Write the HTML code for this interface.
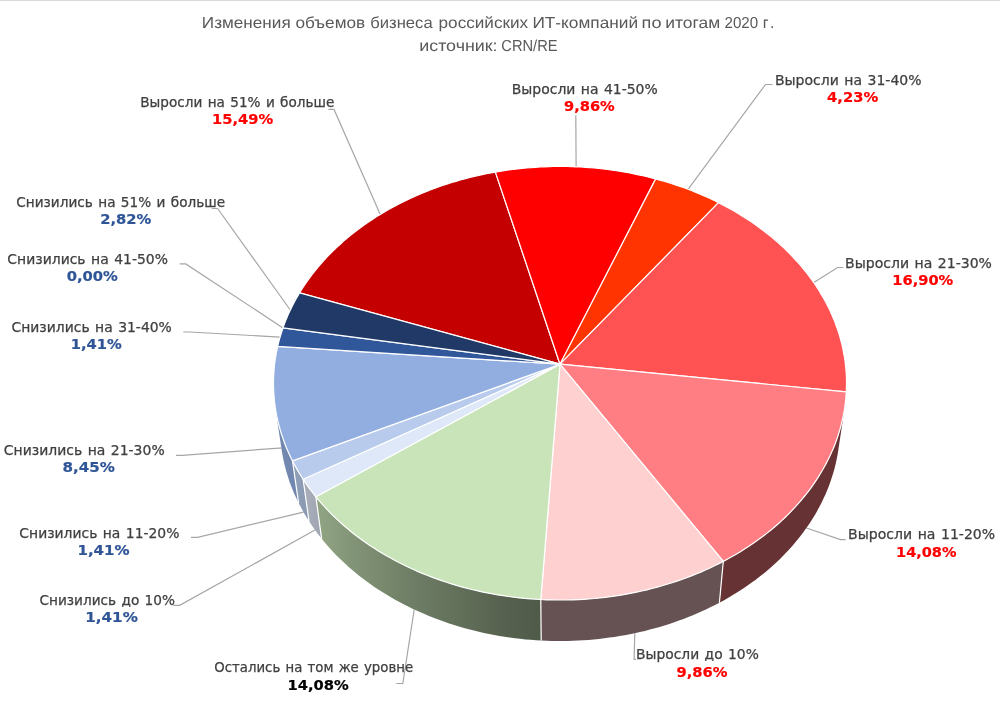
<!DOCTYPE html>
<html lang="ru">
<head>
<meta charset="utf-8">
<title>Изменения объемов бизнеса российских ИТ-компаний по итогам 2020 г.</title>
<style>
html,body{margin:0;padding:0;background:#fff;}
body{width:1000px;height:709px;overflow:hidden;position:relative;}
svg{position:absolute;left:0;top:0;display:block;}
.ttl{font-family:"Liberation Sans",sans-serif;font-size:15.9px;text-rendering:geometricPrecision;fill:#595959;}
.lb{font-family:"DejaVu Sans","Liberation Sans",sans-serif;font-size:13.5px;word-spacing:1px;fill:#404040;stroke:#404040;stroke-width:0.25px;}
.vl{font-family:"DejaVu Sans","Liberation Sans",sans-serif;font-size:13.8px;font-weight:bold;stroke-width:0.2px;}
</style>
</head>
<body>
<svg width="1000" height="709" viewBox="0 0 1000 709">
<rect x="0" y="0" width="1000" height="709" fill="#fff"/>
<rect x="0" y="0" width="1000" height="1" fill="#D9D9D9"/>
<text class="ttl" y="28.0"><tspan x="201.83" textLength="88.86" lengthAdjust="spacingAndGlyphs">Изменения</tspan> <tspan x="295.53" textLength="69.62" lengthAdjust="spacingAndGlyphs">объемов</tspan> <tspan x="370.30" textLength="62.35" lengthAdjust="spacingAndGlyphs">бизнеса</tspan> <tspan x="438.60" textLength="89.55" lengthAdjust="spacingAndGlyphs">российских</tspan> <tspan x="532.44" textLength="105.62" lengthAdjust="spacingAndGlyphs">ИТ-компаний</tspan> <tspan x="641.60" textLength="19.86" lengthAdjust="spacingAndGlyphs">по</tspan> <tspan x="665.29" textLength="54.92" lengthAdjust="spacingAndGlyphs">итогам</tspan> <tspan x="724.57" textLength="33.63" lengthAdjust="spacingAndGlyphs">2020</tspan> <tspan x="762.70" textLength="11.75" lengthAdjust="spacing">г.</tspan></text>
<text class="ttl" y="51.0"><tspan x="419.22" textLength="78.36" lengthAdjust="spacingAndGlyphs">источник:</tspan> <tspan x="501.29" textLength="56.30" lengthAdjust="spacingAndGlyphs">CRN/RE</tspan></text>
<defs>
<linearGradient id="g1" gradientUnits="userSpaceOnUse" x1="838.3" y1="0" x2="719.4" y2="0"><stop offset="0.000" stop-color="#663233"/><stop offset="0.040" stop-color="#663233"/><stop offset="0.106" stop-color="#663233"/><stop offset="0.197" stop-color="#663233"/><stop offset="0.312" stop-color="#663233"/><stop offset="0.452" stop-color="#663233"/><stop offset="0.614" stop-color="#663233"/><stop offset="0.797" stop-color="#663233"/><stop offset="1.000" stop-color="#663233"/></linearGradient>
<linearGradient id="g2" gradientUnits="userSpaceOnUse" x1="719.4" y1="0" x2="541.2" y2="0"><stop offset="0.000" stop-color="#665252"/><stop offset="0.111" stop-color="#665252"/><stop offset="0.227" stop-color="#665252"/><stop offset="0.349" stop-color="#665252"/><stop offset="0.475" stop-color="#665252"/><stop offset="0.604" stop-color="#665252"/><stop offset="0.735" stop-color="#665252"/><stop offset="0.867" stop-color="#665252"/><stop offset="1.000" stop-color="#665252"/></linearGradient>
<linearGradient id="g3" gradientUnits="userSpaceOnUse" x1="541.2" y1="0" x2="321.6" y2="0"><stop offset="0.000" stop-color="#4F5A48"/><stop offset="0.152" stop-color="#55614E"/><stop offset="0.301" stop-color="#5E6A55"/><stop offset="0.444" stop-color="#66745D"/><stop offset="0.578" stop-color="#6E7D65"/><stop offset="0.703" stop-color="#76876C"/><stop offset="0.815" stop-color="#7F9074"/><stop offset="0.915" stop-color="#879A7B"/><stop offset="1.000" stop-color="#8FA383"/></linearGradient>
<linearGradient id="g4" gradientUnits="userSpaceOnUse" x1="321.6" y1="0" x2="309.0" y2="0"><stop offset="0.000" stop-color="#9FA5B1"/><stop offset="0.134" stop-color="#A0A6B2"/><stop offset="0.266" stop-color="#A1A7B3"/><stop offset="0.395" stop-color="#A2A8B4"/><stop offset="0.522" stop-color="#A2A9B5"/><stop offset="0.645" stop-color="#A3AAB6"/><stop offset="0.766" stop-color="#A4ABB7"/><stop offset="0.885" stop-color="#A5ACB8"/><stop offset="1.000" stop-color="#A6ADB9"/></linearGradient>
<linearGradient id="g5" gradientUnits="userSpaceOnUse" x1="309.0" y1="0" x2="298.6" y2="0"><stop offset="0.000" stop-color="#8998B0"/><stop offset="0.137" stop-color="#8A98B1"/><stop offset="0.270" stop-color="#8B99B2"/><stop offset="0.400" stop-color="#8B9AB3"/><stop offset="0.527" stop-color="#8C9BB4"/><stop offset="0.650" stop-color="#8D9CB5"/><stop offset="0.770" stop-color="#8E9DB6"/><stop offset="0.887" stop-color="#8E9EB7"/><stop offset="1.000" stop-color="#8F9EB8"/></linearGradient>
<linearGradient id="g6" gradientUnits="userSpaceOnUse" x1="298.6" y1="0" x2="281.7" y2="0"><stop offset="0.000" stop-color="#7287AF"/><stop offset="0.182" stop-color="#7288B0"/><stop offset="0.348" stop-color="#7288B0"/><stop offset="0.498" stop-color="#7288B0"/><stop offset="0.631" stop-color="#7288B0"/><stop offset="0.748" stop-color="#7288B0"/><stop offset="0.848" stop-color="#7288B0"/><stop offset="0.932" stop-color="#7288B0"/><stop offset="1.000" stop-color="#7288B0"/></linearGradient>
</defs>
<g id="leaders">
<polyline points="328.4,109.4 334.0,109.4 380.3,214.4" fill="none" stroke="#A6A6A6" stroke-width="1.2"/>
<polyline points="575.8,115.5 576.1,166.8" fill="none" stroke="#A6A6A6" stroke-width="1.2"/>
<polyline points="772.6,84.5 765.5,84.5 688.0,189.3" fill="none" stroke="#A6A6A6" stroke-width="1.2"/>
<polyline points="843.3,267.5 837.6,267.5 813.8,282.6" fill="none" stroke="#A6A6A6" stroke-width="1.2"/>
<polyline points="845.6,539.6 840.5,539.6 806.4,528.0" fill="none" stroke="#A6A6A6" stroke-width="1.2"/>
<polyline points="636.0,659.3 634.1,659.3 634.8,633.2" fill="none" stroke="#A6A6A6" stroke-width="1.2"/>
<polyline points="396.3,683.5 402.8,683.5 414.2,609.5" fill="none" stroke="#A6A6A6" stroke-width="1.2"/>
<polyline points="173.3,605.3 179.7,605.3 315.0,530.0" fill="none" stroke="#A6A6A6" stroke-width="1.2"/>
<polyline points="191.0,537.3 197.5,537.3 303.5,512.2" fill="none" stroke="#A6A6A6" stroke-width="1.2"/>
<polyline points="176.0,455.3 182.0,455.3 283.0,447.8" fill="none" stroke="#A6A6A6" stroke-width="1.2"/>
<polyline points="183.3,332.0 189.5,332.0 280.1,337.1" fill="none" stroke="#A6A6A6" stroke-width="1.2"/>
<polyline points="179.7,263.9 185.7,263.9 283.0,327.9" fill="none" stroke="#A6A6A6" stroke-width="1.2"/>
<polyline points="211.6,208.5 217.6,208.5 290.3,310.0" fill="none" stroke="#A6A6A6" stroke-width="1.2"/>
</g>
<g id="sides">
<polygon points="844.7,407.7 844.1,411.5 843.4,415.3 842.6,419.0 841.7,422.8 840.7,426.6 839.7,430.3 838.5,434.0 837.3,437.8 836.0,441.5 834.6,445.2 833.1,448.9 831.5,452.5 829.8,456.2 828.0,459.8 826.2,463.5 824.2,467.1 822.2,470.6 820.1,474.2 817.9,477.7 815.6,481.2 813.2,484.7 810.7,488.1 808.2,491.6 805.5,495.0 802.8,498.3 800.0,501.6 797.1,504.9 794.2,508.2 791.1,511.4 788.0,514.5 784.8,517.7 781.5,520.8 778.1,523.8 774.7,526.8 771.1,529.8 767.5,532.7 763.9,535.6 760.1,538.4 756.3,541.2 752.4,543.9 748.4,546.5 744.4,549.2 740.3,551.7 736.2,554.2 731.9,556.7 727.6,559.0 723.3,561.4 719.4,602.7 723.7,600.4 727.9,598.0 732.0,595.6 736.1,593.1 740.1,590.6 744.0,588.0 747.9,585.3 751.7,582.6 755.4,579.9 759.1,577.1 762.7,574.3 766.2,571.4 769.6,568.4 773.0,565.5 776.3,562.4 779.5,559.4 782.7,556.2 785.7,553.1 788.7,549.9 791.6,546.7 794.4,543.4 797.2,540.1 799.9,536.8 802.4,533.4 804.9,530.0 807.4,526.6 809.7,523.2 811.9,519.7 814.1,516.2 816.2,512.7 818.2,509.1 820.1,505.5 821.9,501.9 823.6,498.3 825.3,494.7 826.9,491.0 828.3,487.4 829.7,483.7 831.0,480.0 832.2,476.3 833.4,472.6 834.4,468.9 835.4,465.1 836.2,461.4 837.0,457.6 837.7,453.9 838.3,450.1" fill="url(#g1)"/>
<polygon points="723.3,561.4 718.9,563.6 714.5,565.8 710.0,568.0 705.4,570.0 700.8,572.1 696.1,574.0 691.4,575.9 686.6,577.7 681.8,579.5 677.0,581.1 672.1,582.8 667.1,584.3 662.1,585.8 657.1,587.2 652.0,588.5 647.0,589.8 641.8,591.0 636.7,592.1 631.5,593.2 626.3,594.2 621.0,595.1 615.8,595.9 610.5,596.6 605.2,597.3 599.9,597.9 594.5,598.5 589.2,598.9 583.8,599.3 578.4,599.6 573.1,599.8 567.7,600.0 562.3,600.0 556.9,600.0 551.5,599.9 546.2,599.8 540.8,599.5 541.2,640.5 546.5,640.8 551.7,640.9 557.0,641.0 562.3,641.0 567.5,640.9 572.8,640.8 578.0,640.6 583.2,640.3 588.5,639.9 593.7,639.4 598.9,638.9 604.1,638.3 609.3,637.6 614.4,636.9 619.6,636.1 624.7,635.2 629.8,634.2 634.8,633.2 639.9,632.1 644.9,630.9 649.8,629.6 654.8,628.3 659.7,626.9 664.5,625.4 669.4,623.9 674.2,622.3 678.9,620.6 683.6,618.9 688.3,617.1 692.9,615.2 697.4,613.3 701.9,611.3 706.4,609.2 710.8,607.1 715.1,604.9 719.4,602.7" fill="url(#g2)"/>
<polygon points="540.8,599.5 535.4,599.2 530.0,598.8 524.6,598.4 519.2,597.8 513.8,597.2 508.5,596.5 503.2,595.7 497.9,594.9 492.6,593.9 487.3,592.9 482.1,591.9 476.9,590.7 471.8,589.5 466.6,588.2 461.5,586.8 456.5,585.4 451.5,583.9 446.5,582.3 441.6,580.6 436.7,578.9 431.8,577.1 427.1,575.3 422.3,573.4 417.6,571.4 413.0,569.3 408.4,567.2 403.9,565.0 399.4,562.8 395.0,560.5 390.7,558.1 386.4,555.7 382.2,553.2 378.0,550.7 374.0,548.1 369.9,545.5 366.0,542.8 362.1,540.0 358.3,537.2 354.6,534.4 350.9,531.5 347.4,528.5 343.8,525.5 340.4,522.5 337.1,519.4 333.8,516.3 330.6,513.1 327.5,509.9 324.5,506.7 321.5,503.4 318.7,500.1 315.9,496.8 321.6,538.6 324.3,541.9 327.1,545.2 330.0,548.5 332.9,551.7 336.0,554.9 339.1,558.0 342.3,561.1 345.6,564.1 348.9,567.2 352.3,570.1 355.8,573.0 359.4,575.9 363.1,578.7 366.8,581.5 370.6,584.2 374.4,586.9 378.3,589.5 382.3,592.1 386.4,594.6 390.5,597.1 394.7,599.5 398.9,601.8 403.2,604.1 407.6,606.3 412.0,608.5 416.5,610.6 421.0,612.6 425.6,614.6 430.2,616.5 434.9,618.3 439.6,620.1 444.4,621.8 449.2,623.4 454.1,625.0 459.0,626.5 463.9,627.9 468.9,629.3 473.9,630.6 478.9,631.8 484.0,632.9 489.1,634.0 494.2,635.0 499.4,635.9 504.5,636.7 509.7,637.5 515.0,638.2 520.2,638.8 525.4,639.4 530.7,639.8 536.0,640.2 541.2,640.5" fill="url(#g3)"/>
<polygon points="315.9,496.8 313.6,493.9 311.4,491.0 309.2,488.1 307.1,485.1 305.1,482.2 303.1,479.2 309.0,521.1 310.9,524.1 312.9,527.0 315.0,530.0 317.1,532.9 319.3,535.7 321.6,538.6" fill="url(#g4)"/>
<polygon points="303.1,479.2 301.2,476.2 299.3,473.2 297.5,470.1 295.8,467.1 294.1,464.0 292.5,460.9 298.6,503.0 300.2,506.1 301.8,509.1 303.5,512.2 305.3,515.2 307.1,518.2 309.0,521.1" fill="url(#g5)"/>
<polygon points="292.5,460.9 290.8,457.5 289.2,454.0 287.6,450.5 286.2,447.0 284.8,443.5 283.5,439.9 282.2,436.4 281.1,432.8 280.0,429.3 279.0,425.7 278.1,422.1 277.3,418.5 276.6,415.0 275.9,411.4 275.3,407.8 281.7,450.2 282.3,453.7 282.9,457.3 283.7,460.9 284.5,464.5 285.4,468.0 286.3,471.6 287.4,475.1 288.5,478.6 289.7,482.2 291.0,485.7 292.4,489.2 293.8,492.7 295.3,496.1 297.0,499.6 298.6,503.0" fill="url(#g6)"/>
<line x1="723.3" y1="561.4" x2="719.4" y2="602.7" stroke="#fff" stroke-width="1.2"/>
<line x1="540.8" y1="599.5" x2="541.2" y2="640.5" stroke="#fff" stroke-width="1.2"/>
<line x1="315.9" y1="496.8" x2="321.6" y2="538.6" stroke="#fff" stroke-width="1.2"/>
<line x1="303.1" y1="479.2" x2="309.0" y2="521.1" stroke="#fff" stroke-width="1.2"/>
<line x1="292.5" y1="460.9" x2="298.6" y2="503.0" stroke="#fff" stroke-width="1.2"/>
</g>
<g id="top">
<polygon points="560.0,364.2 299.6,292.8 301.7,289.5 303.8,286.2 306.0,283.0 308.2,279.8 310.6,276.6 312.9,273.5 315.4,270.4 317.9,267.3 320.5,264.3 323.1,261.3 325.8,258.3 328.6,255.4 331.4,252.6 334.3,249.7 337.3,246.9 340.3,244.2 343.3,241.4 346.4,238.8 349.6,236.1 352.8,233.5 356.1,231.0 359.4,228.5 362.8,226.0 366.2,223.6 369.6,221.2 373.2,218.9 376.7,216.6 380.3,214.4 384.0,212.2 387.7,210.1 391.4,208.0 395.2,205.9 399.0,203.9 402.9,202.0 406.7,200.1 410.7,198.3 414.6,196.5 418.6,194.7 422.7,193.0 426.7,191.4 430.8,189.8 435.0,188.2 439.1,186.7 443.3,185.3 447.5,183.9 451.8,182.5 456.0,181.3 460.3,180.0 464.6,178.8 469.0,177.7 473.3,176.6 477.7,175.6 482.1,174.6 486.5,173.7 490.9,172.9 495.4,172.1" fill="#C40000" stroke="#fff" stroke-width="1.2" stroke-linejoin="round"/>
<polygon points="560.0,364.2 495.4,172.1 499.8,171.3 504.2,170.6 508.7,170.0 513.1,169.4 517.6,168.9 522.1,168.4 526.5,168.0 531.0,167.6 535.5,167.3 540.0,167.0 544.5,166.8 549.0,166.6 553.6,166.5 558.1,166.5 562.6,166.5 567.1,166.5 571.6,166.7 576.1,166.8 580.6,167.0 585.1,167.3 589.6,167.6 594.1,168.0 598.6,168.5 603.1,168.9 607.5,169.5 612.0,170.1 616.4,170.7 620.8,171.4 625.3,172.2 629.7,173.0 634.0,173.8 638.4,174.8 642.8,175.7 647.1,176.7 651.4,177.8 655.7,178.9" fill="#FF0000" stroke="#fff" stroke-width="1.2" stroke-linejoin="round"/>
<polygon points="560.0,364.2 655.7,178.9 659.8,180.1 663.9,181.2 668.0,182.5 672.0,183.7 676.0,185.1 680.0,186.4 684.0,187.8 688.0,189.3 691.9,190.8 695.8,192.4 699.6,194.0 703.5,195.6 707.3,197.3 711.0,199.0 714.8,200.8 718.5,202.7" fill="#FF3400" stroke="#fff" stroke-width="1.2" stroke-linejoin="round"/>
<polygon points="560.0,364.2 718.5,202.7 722.3,204.6 726.1,206.6 729.9,208.7 733.6,210.8 737.3,213.0 740.9,215.2 744.5,217.4 748.1,219.7 751.6,222.1 755.1,224.5 758.5,226.9 761.8,229.4 765.1,231.9 768.4,234.5 771.6,237.1 774.7,239.7 777.8,242.4 780.9,245.2 783.8,247.9 786.8,250.8 789.6,253.6 792.4,256.5 795.2,259.5 797.9,262.4 800.5,265.4 803.1,268.5 805.6,271.6 808.0,274.7 810.3,277.8 812.6,281.0 814.9,284.2 817.0,287.5 819.1,290.8 821.1,294.1 823.1,297.4 825.0,300.8 826.8,304.2 828.5,307.6 830.2,311.1 831.7,314.6 833.2,318.1 834.7,321.6 836.0,325.2 837.3,328.7 838.5,332.3 839.6,335.9 840.6,339.6 841.6,343.2 842.5,346.9 843.2,350.6 843.9,354.3 844.6,358.0 845.1,361.7 845.5,365.5 845.9,369.2 846.2,373.0 846.4,376.8 846.5,380.6 846.5,384.3 846.4,388.1 846.3,391.9" fill="#FF5252" stroke="#fff" stroke-width="1.2" stroke-linejoin="round"/>
<polygon points="560.0,364.2 846.3,391.9 846.0,395.7 845.7,399.5 845.3,403.3 844.8,407.1 844.2,410.9 843.5,414.7 842.7,418.4 841.8,422.2 840.9,426.0 839.8,429.8 838.7,433.5 837.5,437.2 836.2,441.0 834.8,444.7 833.3,448.4 831.7,452.1 830.0,455.8 828.2,459.4 826.4,463.1 824.4,466.7 822.4,470.3 820.3,473.8 818.1,477.4 815.8,480.9 813.4,484.4 811.0,487.8 808.4,491.3 805.8,494.7 803.0,498.0 800.2,501.4 797.3,504.7 794.4,507.9 791.3,511.2 788.2,514.4 785.0,517.5 781.7,520.6 778.3,523.7 774.8,526.7 771.3,529.7 767.7,532.6 764.0,535.5 760.2,538.3 756.4,541.1 752.5,543.8 748.5,546.5 744.5,549.1 740.4,551.7 736.2,554.2 732.0,556.6 727.7,559.0 723.3,561.4" fill="#FF7E83" stroke="#fff" stroke-width="1.2" stroke-linejoin="round"/>
<polygon points="560.0,364.2 723.3,561.4 718.9,563.6 714.5,565.8 710.0,568.0 705.4,570.0 700.8,572.1 696.1,574.0 691.4,575.9 686.6,577.7 681.8,579.5 677.0,581.1 672.1,582.8 667.1,584.3 662.1,585.8 657.1,587.2 652.0,588.5 647.0,589.8 641.8,591.0 636.7,592.1 631.5,593.2 626.3,594.2 621.0,595.1 615.8,595.9 610.5,596.6 605.2,597.3 599.9,597.9 594.5,598.5 589.2,598.9 583.8,599.3 578.4,599.6 573.1,599.8 567.7,600.0 562.3,600.0 556.9,600.0 551.5,599.9 546.2,599.8 540.8,599.5" fill="#FFD0D0" stroke="#fff" stroke-width="1.2" stroke-linejoin="round"/>
<polygon points="560.0,364.2 540.8,599.5 535.4,599.2 530.0,598.8 524.6,598.4 519.2,597.8 513.8,597.2 508.5,596.5 503.2,595.7 497.9,594.9 492.6,593.9 487.3,592.9 482.1,591.9 476.9,590.7 471.8,589.5 466.6,588.2 461.5,586.8 456.5,585.4 451.5,583.9 446.5,582.3 441.6,580.6 436.7,578.9 431.8,577.1 427.1,575.3 422.3,573.4 417.6,571.4 413.0,569.3 408.4,567.2 403.9,565.0 399.4,562.8 395.0,560.5 390.7,558.1 386.4,555.7 382.2,553.2 378.0,550.7 374.0,548.1 369.9,545.5 366.0,542.8 362.1,540.0 358.3,537.2 354.6,534.4 350.9,531.5 347.4,528.5 343.8,525.5 340.4,522.5 337.1,519.4 333.8,516.3 330.6,513.1 327.5,509.9 324.5,506.7 321.5,503.4 318.7,500.1 315.9,496.8" fill="#C9E4B8" stroke="#fff" stroke-width="1.2" stroke-linejoin="round"/>
<polygon points="560.0,364.2 315.9,496.8 313.6,493.9 311.4,491.0 309.2,488.1 307.1,485.1 305.1,482.2 303.1,479.2" fill="#DEE8F8" stroke="#fff" stroke-width="1.2" stroke-linejoin="round"/>
<polygon points="560.0,364.2 303.1,479.2 301.2,476.2 299.3,473.2 297.5,470.1 295.8,467.1 294.1,464.0 292.5,460.9" fill="#B8CBEC" stroke="#fff" stroke-width="1.2" stroke-linejoin="round"/>
<polygon points="560.0,364.2 292.5,460.9 290.7,457.3 289.1,453.7 287.4,450.1 285.9,446.4 284.5,442.8 283.2,439.1 281.9,435.4 280.7,431.7 279.7,428.0 278.7,424.3 277.8,420.6 276.9,416.8 276.2,413.1 275.6,409.4 275.0,405.6 274.5,401.9 274.2,398.1 273.9,394.4 273.7,390.7 273.5,386.9 273.5,383.2 273.5,379.5 273.7,375.7 273.9,372.0 274.2,368.3 274.5,364.6 275.0,361.0 275.6,357.3 276.2,353.6 276.9,350.0 277.7,346.4" fill="#92ADE0" stroke="#fff" stroke-width="1.2" stroke-linejoin="round"/>
<polygon points="560.0,364.2 277.7,346.4 278.4,343.3 279.2,340.2 280.1,337.1 281.0,334.0 282.0,331.0 283.0,327.9" fill="#30579A" stroke="#fff" stroke-width="1.2" stroke-linejoin="round"/>
<polygon points="560.0,364.2 283.0,327.9 284.2,324.6 285.4,321.3 286.8,318.1 288.1,314.8 289.6,311.6 291.1,308.4 292.7,305.2 294.3,302.1 296.0,299.0 297.8,295.9 299.6,292.8" fill="#213966" stroke="#fff" stroke-width="1.2" stroke-linejoin="round"/>
</g>
<g id="labels">
<text class="lb" x="140.22" y="107.0" textLength="194.18" lengthAdjust="spacingAndGlyphs">Выросли на 51% и больше</text>
<text class="vl" x="211.98" y="124.0" textLength="61.13" lengthAdjust="spacingAndGlyphs" fill="#FF0000" stroke="#FF0000">15,49%</text>
<text class="lb" x="511.78" y="94.0" textLength="145.96" lengthAdjust="spacingAndGlyphs">Выросли на 41-50%</text>
<text class="vl" x="564.09" y="111.0" textLength="50.66" lengthAdjust="spacingAndGlyphs" fill="#FF0000" stroke="#FF0000">9,86%</text>
<text class="lb" x="774.94" y="85.0" textLength="146.57" lengthAdjust="spacingAndGlyphs">Выросли на 31-40%</text>
<text class="vl" x="827.12" y="102.0" textLength="51.14" lengthAdjust="spacingAndGlyphs" fill="#FF0000" stroke="#FF0000">4,23%</text>
<text class="lb" x="845.14" y="268.0" textLength="146.82" lengthAdjust="spacingAndGlyphs">Выросли на 21-30%</text>
<text class="vl" x="892.30" y="285.0" textLength="60.98" lengthAdjust="spacingAndGlyphs" fill="#FF0000" stroke="#FF0000">16,90%</text>
<text class="lb" x="848.13" y="539.0" textLength="146.98" lengthAdjust="spacingAndGlyphs">Выросли на 11-20%</text>
<text class="vl" x="896.05" y="557.0" textLength="60.41" lengthAdjust="spacingAndGlyphs" fill="#FF0000" stroke="#FF0000">14,08%</text>
<text class="lb" x="636.04" y="659.0" textLength="122.81" lengthAdjust="spacingAndGlyphs">Выросли до 10%</text>
<text class="vl" x="676.43" y="677.0" textLength="51.07" lengthAdjust="spacingAndGlyphs" fill="#FF0000" stroke="#FF0000">9,86%</text>
<text class="lb" x="214.33" y="672.0" textLength="198.82" lengthAdjust="spacingAndGlyphs">Остались на том же уровне</text>
<text class="vl" x="287.54" y="690.0" textLength="61.08" lengthAdjust="spacingAndGlyphs" fill="#000000" stroke="#000000">14,08%</text>
<text class="lb" x="39.50" y="605.0" textLength="135.47" lengthAdjust="spacingAndGlyphs">Снизились до 10%</text>
<text class="vl" x="85.28" y="622.0" textLength="52.56" lengthAdjust="spacingAndGlyphs" fill="#2F5597" stroke="#2F5597">1,41%</text>
<text class="lb" x="19.36" y="538.0" textLength="160.06" lengthAdjust="spacingAndGlyphs">Снизились на 11-20%</text>
<text class="vl" x="77.46" y="555.0" textLength="52.15" lengthAdjust="spacingAndGlyphs" fill="#2F5597" stroke="#2F5597">1,41%</text>
<text class="lb" x="3.86" y="455.0" textLength="160.79" lengthAdjust="spacingAndGlyphs">Снизились на 21-30%</text>
<text class="vl" x="62.54" y="472.0" textLength="52.27" lengthAdjust="spacingAndGlyphs" fill="#2F5597" stroke="#2F5597">8,45%</text>
<text class="lb" x="11.45" y="332.0" textLength="160.40" lengthAdjust="spacingAndGlyphs">Снизились на 31-40%</text>
<text class="vl" x="70.79" y="349.0" textLength="50.99" lengthAdjust="spacingAndGlyphs" fill="#2F5597" stroke="#2F5597">1,41%</text>
<text class="lb" x="7.37" y="264.0" textLength="160.53" lengthAdjust="spacingAndGlyphs">Снизились на 41-50%</text>
<text class="vl" x="66.68" y="281.0" textLength="51.21" lengthAdjust="spacingAndGlyphs" fill="#2F5597" stroke="#2F5597">0,00%</text>
<text class="lb" x="16.29" y="207.0" textLength="208.87" lengthAdjust="spacingAndGlyphs">Снизились на 51% и больше</text>
<text class="vl" x="100.25" y="224.0" textLength="51.07" lengthAdjust="spacingAndGlyphs" fill="#2F5597" stroke="#2F5597">2,82%</text>
</g>
</svg>
</body>
</html>
